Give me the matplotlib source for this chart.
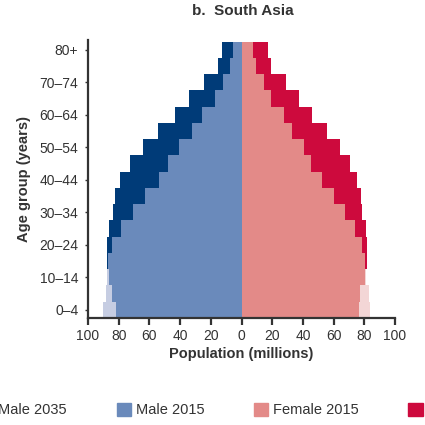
import matplotlib
matplotlib.use("Agg")
import matplotlib.pyplot as plt
from matplotlib.patches import Patch
import numpy as np

plt.rcParams['font.family'] = ['Liberation Sans', 'DejaVu Sans']

# Age groups, bottom to top
age_groups = ["0–4", "5–9", "10–14", "15–19", "20–24", "25–29", "30–34", "35–39",
              "40–44", "45–49", "50–54", "55–59", "60–64", "65–69", "70–74", "75–79", "80+"]
# Population in millions, bottom (0-4) to top (80+)
male_2015 = [90, 88.5, 87.5, 87, 84.5, 78.7, 71, 62.6, 53.5, 47.9, 41, 32.4, 25.9, 17.3, 11.9, 7.3, 5.4]
male_2035 = [82, 84.5, 86.5, 87.5, 87.4, 86, 84, 82.2, 79.2, 72.9, 64.3, 54.4, 43.1, 34.1, 24.2, 15.3, 12.5]
female_2015 = [84, 82.8, 81, 80.7, 78.5, 74.2, 67.7, 60.2, 52.6, 45.5, 40.8, 33.2, 27.4, 19.2, 14.5, 9.5, 7.3]
female_2035 = [76.4, 77.5, 80.2, 81.8, 81.8, 81.3, 78.5, 77.9, 75.3, 71, 64.1, 55.4, 46.2, 37.5, 28.9, 19.2, 17.5]
xtick_values = [-100, -80, -60, -40, -20, 0, 20, 40, 60, 80, 100]
ytick_labels = ["0–4", "10–14", "20–24", "30–34", "40–44", "50–54", "60–64", "70–74", "80+"]

c_m35 = "#003b78"
c_m15 = "#6a8abb"
c_m15_light = "#c6cde2"
c_f15 = "#e38a88"
c_f35 = "#cd0a3d"
c_f15_light = "#f3d6d6"
spine_c = "#333333"
text_c = "#333333"

fig = plt.figure(figsize=(4.25, 4.25), dpi=100)
ax = fig.add_axes([88/425, 1-318/425, (395-88)/425, (318-40)/425])

y = np.arange(len(age_groups))
m15 = np.array(male_2015)
m35 = np.array(male_2035)
f15 = np.array(female_2015)
f35 = np.array(female_2035)

h = 1.0
# Male side (negative)
ax.barh(y, -m35, height=h, color=c_m35, linewidth=0)
ax.barh(y, -m15, height=h, color=c_m15_light, linewidth=0)
ax.barh(y, -np.minimum(m15, m35), height=h, color=c_m15, linewidth=0)
# Female side
ax.barh(y, f35, height=h, color=c_f35, linewidth=0)
ax.barh(y, f15, height=h, color=c_f15_light, linewidth=0)
ax.barh(y, np.minimum(f15, f35), height=h, color=c_f15, linewidth=0)

ax.set_xlim(-100, 100)
ax.set_ylim(-0.5, 16.6)
ax.set_xticks(xtick_values)
ax.set_xticklabels([str(abs(v)) for v in xtick_values], fontsize=10, color=text_c)
ax.set_yticks(np.arange(0, len(age_groups), 2))
ax.set_yticklabels(ytick_labels, fontsize=10, color=text_c)

for s in ["top", "right"]:
    ax.spines[s].set_visible(False)
for s in ["left", "bottom"]:
    ax.spines[s].set_color(spine_c)
    ax.spines[s].set_linewidth(1.6)
ax.tick_params(axis="x", direction="out", length=5, width=1.6, color=spine_c, pad=3)
ax.tick_params(axis="y", direction="out", length=2, width=1, color=spine_c, pad=5)

ax.set_xlabel("Population (millions)", fontsize=10.5, fontweight="bold", color=text_c, labelpad=3)
ax.set_ylabel("Age group (years)", fontsize=10.5, fontweight="bold", color=text_c, labelpad=6)

fig.text(243/425, 1-11/425, "b.  South Asia", fontsize=11, fontweight="bold",
         color=text_c, ha="center", va="center")

handles = [Patch(color=c_m35, label="Male 2035"),
           Patch(color=c_m15, label="Male 2015"),
           Patch(color=c_f15, label="Female 2015"),
           Patch(color=c_f35, label="Female 2035")]
leg = fig.legend(handles=handles, loc="center", bbox_to_anchor=(0.579, 1-410/425), ncol=4,
                 frameon=False, fontsize=10.5, handlelength=1.0, handleheight=1.0,
                 handletextpad=0.3, columnspacing=3.4)
for t in leg.get_texts():
    t.set_color(text_c)

fig.savefig("out.png", dpi=100)
